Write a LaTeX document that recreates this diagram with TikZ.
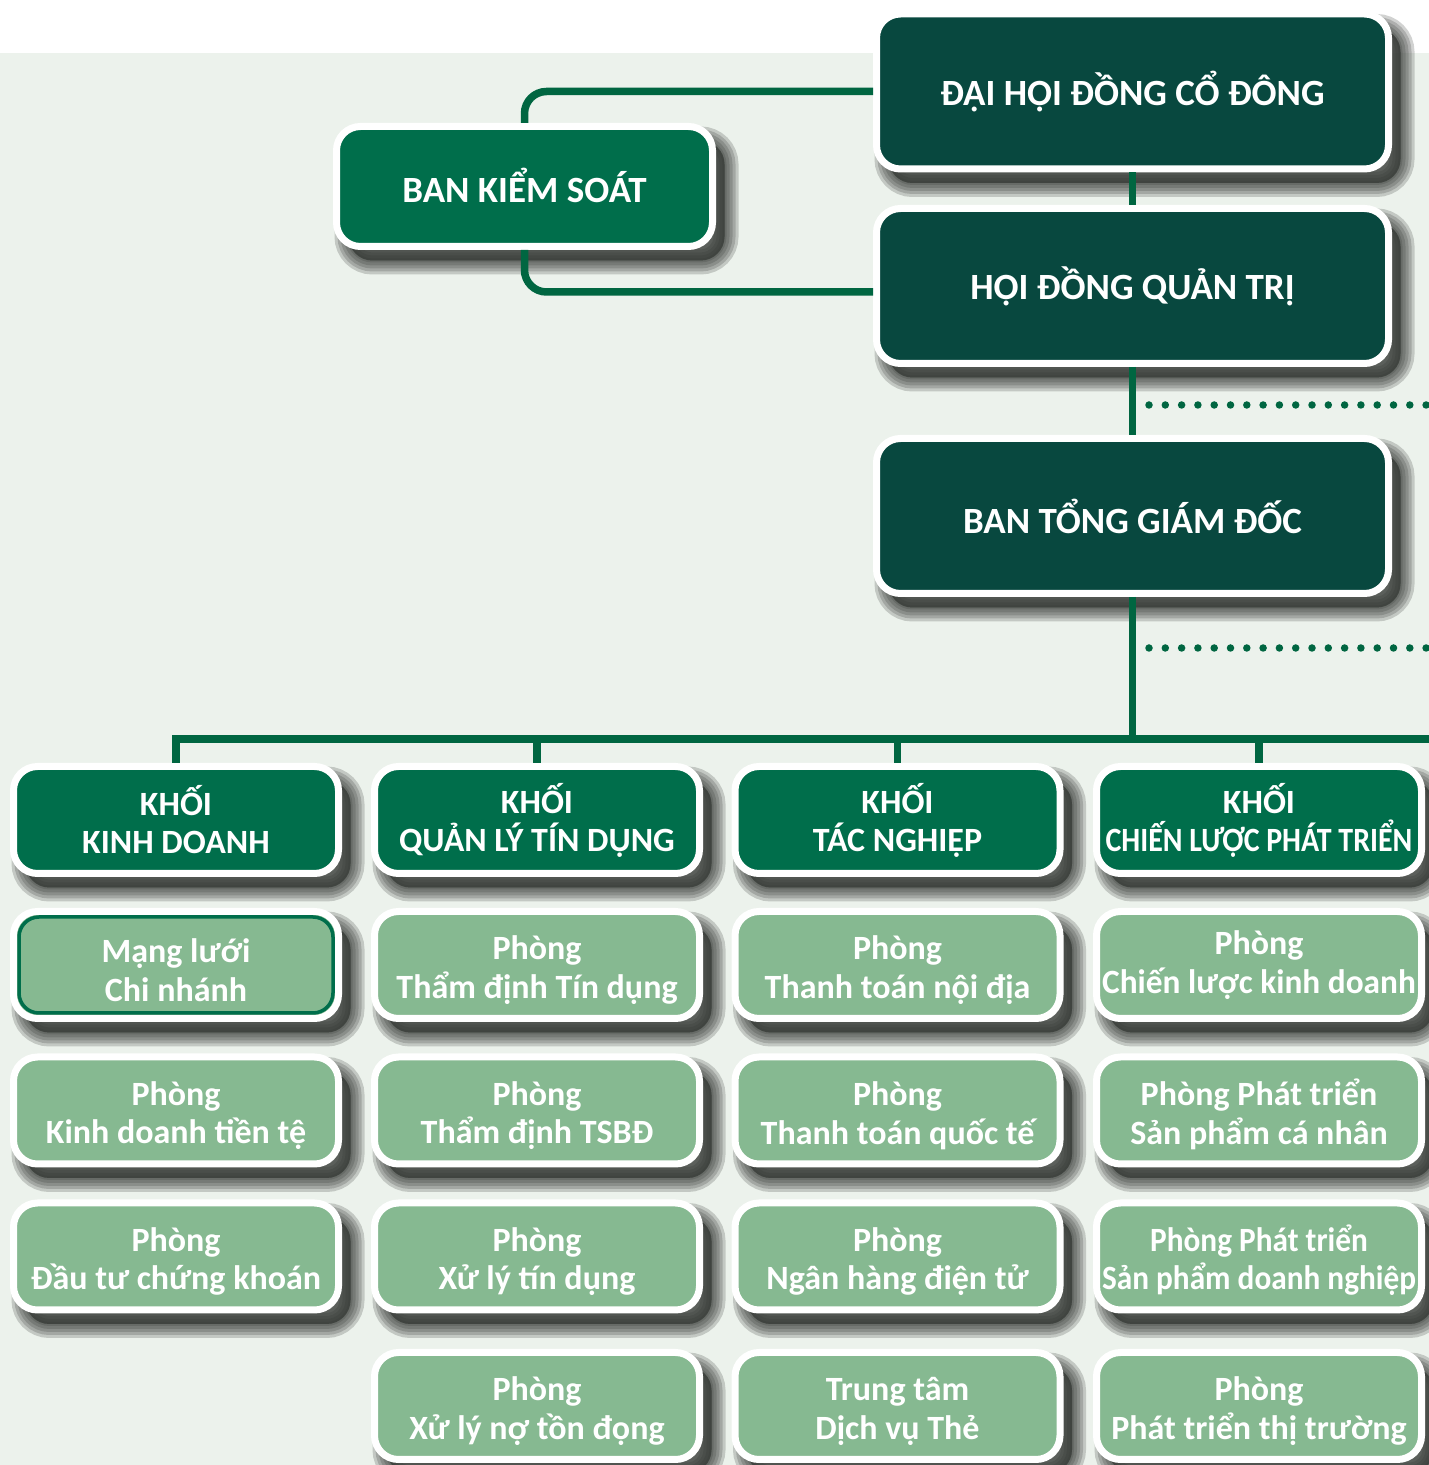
\documentclass[tikz,border=0pt]{standalone}
\usepackage{fontspec}
\setmainfont{Carlito}
\usetikzlibrary{shadows,calc}
\newcommand{\boxlines}[2]{\rule{0pt}{34pt}#1\\#2}

\begin{document}
\begin{tikzpicture}[x=1pt,y=1pt,
  shadowlayer/.style={general shadow={shadow xshift=12pt,shadow yshift=-14pt,fill=shadowColor,draw=shadowColor,line width=#1,opacity=0.22}},
  boxshadow/.style={shadowlayer=28pt,shadowlayer=22pt,shadowlayer=16pt,shadowlayer=10pt,shadowlayer=4pt},
  orgbox/.style={boxshadow,draw=white,line width=7pt,rounded corners=24pt,text=white,align=center,inner sep=0pt},
  topbox/.style={orgbox,fill=topColor,minimum width=512pt,minimum height=155pt,font=\fontsize{37}{41}\selectfont\bfseries},
  headbox/.style={orgbox,fill=headColor,minimum width=325pt,minimum height=107pt,font=\fontsize{34}{38}\selectfont\bfseries},
  unitbox/.style={orgbox,fill=unitColor,minimum width=325pt,minimum height=107pt,font=\fontsize{34}{38.5}\selectfont\bfseries},
  link/.style={draw=linkColor,line width=7.5pt},
  dotline/.style={draw=linkColor,line width=7.5pt,line cap=round,dash pattern=on 0pt off 16.3pt}]
\definecolor{bgColor}{RGB}{236,242,236}
\definecolor{shadowColor}{RGB}{50,54,50}
\definecolor{topColor}{RGB}{8,72,63}
\definecolor{headColor}{RGB}{0,110,75}
\definecolor{unitColor}{RGB}{134,185,145}
\definecolor{linkColor}{RGB}{0,102,65}

\path[use as bounding box,fill=white] (0,0) rectangle (1429,1465);
\path[fill=bgColor] (0,0) rectangle (1429,1412);

\node[topbox] (dhdcd) at (1132.5,1373.5) {ĐẠI HỘI ĐỒNG CỔ ĐÔNG};
\node[topbox] (hdqt) at (1132.5,1179) {HỘI ĐỒNG QUẢN TRỊ};
\node[topbox] (btgd) at (1132.5,949) {BAN TỔNG GIÁM ĐỐC};
\node[orgbox,fill=headColor,minimum width=376pt,minimum height=120pt,font=\fontsize{37}{41}\selectfont\bfseries] (bks) at (524.5,1278.5) {\raisebox{3pt}{BAN KIỂM SOÁT}};

\node[headbox] (kd) at (176,645) {KHỐI\\KINH DOANH};
\node[headbox] (ql) at (537,645) {KHỐI\\QUẢN LÝ TÍN DỤNG};
\node[headbox] (tn) at (897.5,645) {KHỐI\\TÁC NGHIỆP};
\node[headbox] (cl) at (1259,645) {KHỐI\\\scalebox{0.88}[1]{CHIẾN LƯỢC PHÁT TRIỂN}};

\node[unitbox] (kd1) at (176,500) {\boxlines{Mạng lưới}{Chi nhánh}};
\node[unitbox] (kd2) at (176,354.5) {\boxlines{Phòng}{Kinh doanh tiền tệ}};
\node[unitbox] (kd3) at (176,208.5) {\boxlines{Phòng}{Đầu tư chứng khoán}};

\node[unitbox] (ql1) at (537,500) {\boxlines{Phòng}{Thẩm định Tín dụng}};
\node[unitbox] (ql2) at (537,354.5) {\boxlines{Phòng}{Thẩm định TSBĐ}};
\node[unitbox] (ql3) at (537,208.5) {\boxlines{Phòng}{Xử lý tín dụng}};
\node[unitbox] (ql4) at (537,59) {\boxlines{Phòng}{Xử lý nợ tồn đọng}};

\node[unitbox] (tn1) at (897.5,500) {\boxlines{Phòng}{Thanh toán nội địa}};
\node[unitbox] (tn2) at (897.5,354.5) {\boxlines{Phòng}{Thanh toán quốc tế}};
\node[unitbox] (tn3) at (897.5,208.5) {\boxlines{Phòng}{Ngân hàng điện tử}};
\node[unitbox] (tn4) at (897.5,59) {\boxlines{Trung tâm}{Dịch vụ Thẻ}};

\node[unitbox] (cl1) at (1259,500) {Phòng\\\scalebox{0.98}[1]{Chiến lược kinh doanh}};
\node[unitbox] (cl2) at (1259,354.5) {\boxlines{Phòng Phát triển}{Sản phẩm cá nhân}};
\node[unitbox] (cl3) at (1259,208.5) {\boxlines{\scalebox{0.92}[1]{Phòng Phát triển}}{\scalebox{0.92}[1]{Sản phẩm doanh nghiệp}}};
\node[unitbox] (cl4) at (1259,59) {\boxlines{Phòng}{Phát triển thị trường}};

\draw[draw=headColor,line width=3.5pt,rounded corners=20pt] ($(kd1.south west)+(9,9)$) rectangle ($(kd1.north east)-(9,9)$);

\draw[link,rounded corners=22pt] (dhdcd.west) -| (bks.north);
\draw[link,rounded corners=22pt] (bks.south) |- ([yshift=-6pt]hdqt.west);
\draw[link] (dhdcd.south) -- (hdqt.north);
\draw[link] (hdqt.south) -- (btgd.north);

\coordinate (busR) at (1429,726);
\draw[link] (btgd.south) -- (btgd.south |- busR);
\draw[link] (kd.north) |- (busR);
\draw[link] (ql.north) -- (ql.north |- busR);
\draw[link] (tn.north) -- (tn.north |- busR);
\draw[link] (cl.north) -- (cl.north |- busR);

\coordinate (dotA) at (1149,1060);
\coordinate (dotB) at (1429,1060);
\coordinate (dotC) at (1149,817);
\coordinate (dotD) at (1429,817);
\draw[dotline] (dotA) -- (dotB);
\draw[dotline] (dotC) -- (dotD);
\end{tikzpicture}
\end{document}
